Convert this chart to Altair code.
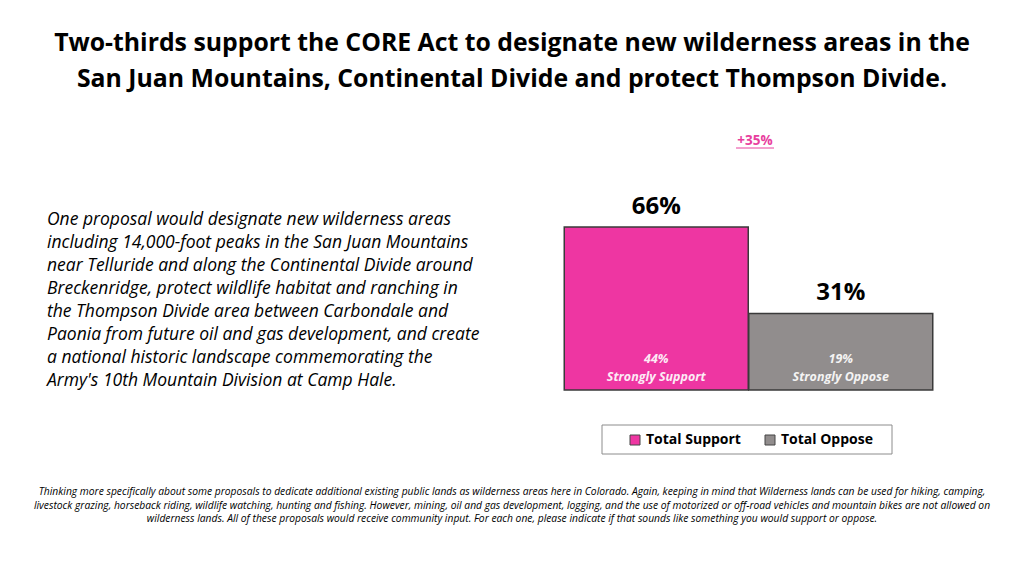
import altair as alt
import pandas as pd

FONT = "Open Sans"

# ---- data ----
categories = ["Total Support", "Total Oppose"]
totals = [66, 31]
strong_values = [44, 19]
strong_labels = ["Strongly Support", "Strongly Oppose"]
colors = ["#EE36A2", "#918D8D"]
margin_label = "+35%"

title_lines = [
    "Two-thirds support the CORE Act to designate new wilderness areas in the",
    "San Juan Mountains, Continental Divide and protect Thompson Divide.",
]
paragraph_lines = [
    "One proposal would designate new wilderness areas",
    "including 14,000-foot peaks in the San Juan Mountains",
    "near Telluride and along the Continental Divide around",
    "Breckenridge, protect wildlife habitat and ranching in",
    "the Thompson Divide area between Carbondale and",
    "Paonia from future oil and gas development, and create",
    "a national historic landscape commemorating the",
    "Army's 10th Mountain Division at Camp Hale.",
]
footnote_lines = [
    "Thinking more specifically about some proposals to dedicate additional existing public lands as wilderness areas here in Colorado. Again, keeping in mind that Wilderness lands can be used for hiking, camping,",
    "livestock grazing, horseback riding, wildlife watching, hunting and fishing. However, mining, oil and gas development, logging, and the use of motorized or off-road vehicles and mountain bikes are not allowed on",
    "wilderness lands. All of these proposals would receive community input. For each one, please indicate if that sounds like something you would support or oppose.",
]

df = pd.DataFrame({
    "category": categories,
    "total": totals,
    "total_label": [f"{v}%" for v in totals],
    "inner_label": [f"{v}%\n{l}" for v, l in zip(strong_values, strong_labels)],
})

one = pd.DataFrame({"k": [0]})

x_enc = alt.X("category:N", sort=categories, axis=None,
              scale=alt.Scale(range=[556, 925], paddingInner=0, paddingOuter=0))
y_scale = alt.Scale(domain=[-72.06, 154.66], nice=False, zero=False)

bars = alt.Chart(df).mark_bar(stroke="#3a3a3a", strokeWidth=1.5, size=184).encode(
    x=x_enc,
    y=alt.Y("total:Q", axis=None, scale=y_scale),
    color=alt.Color("category:N", sort=categories,
                    scale=alt.Scale(domain=categories, range=colors),
                    legend=alt.Legend(orient="none", legendX=620, legendY=425,
                                      direction="horizontal", title=None,
                                      symbolType="square", symbolSize=100,
                                      symbolStrokeColor="#444", symbolStrokeWidth=1,
                                      labelFont=FONT, labelFontSize=14,
                                      labelFontWeight="bold", labelColor="black",
                                      labelOffset=4, columnPadding=22,
                                      padding=0, labelLimit=300)),
)

total_text = alt.Chart(df).mark_text(font=FONT, fontSize=24, fontWeight="bold",
                                     color="black", baseline="alphabetic", dy=-13).encode(
    x=x_enc,
    y=alt.Y("total:Q", axis=None, scale=y_scale),
    text="total_label:N",
)

inner_text = alt.Chart(df).mark_text(font=FONT, fontSize=12.5, fontWeight="bold",
                                     fontStyle="italic", color="white", opacity=0.9,
                                     baseline="middle", lineBreak="\n",
                                     lineHeight=18).encode(
    x=x_enc,
    y=alt.value(351),
    text="inner_label:N",
)

legend_box = alt.Chart(one).mark_rect(fill="white", stroke="#8c8c8c",
                                      strokeWidth=1).encode(
    x=alt.value(594), x2=alt.value(884), y=alt.value(417), y2=alt.value(446))

title = alt.Chart(one).mark_text(font=FONT, fontSize=24.8, fontWeight="bold",
                                 color="black", align="center",
                                 baseline="alphabetic", lineHeight=36).encode(
    x=alt.value(504), y=alt.value(43),
    text=alt.value(title_lines))

paragraph = alt.Chart(one).mark_text(font=FONT, fontSize=17.5, fontStyle="italic",
                                     color="black", align="left",
                                     baseline="alphabetic", lineHeight=23).encode(
    x=alt.value(39), y=alt.value(217),
    text=alt.value(paragraph_lines))

footnote = alt.Chart(one).mark_text(font=FONT, fontSize=10.3, fontStyle="italic",
                                    color="black", align="center",
                                    baseline="alphabetic", lineHeight=13.5).encode(
    x=alt.value(504), y=alt.value(487),
    text=alt.value(footnote_lines))

margin_text = alt.Chart(one).mark_text(font=FONT, fontSize=13.5, fontWeight="bold",
                                       color="#E8409E", align="center",
                                       baseline="middle").encode(
    x=alt.value(747), y=alt.value(133), text=alt.value(margin_label))

underline = alt.Chart(one).mark_rule(color="#E8409E", strokeWidth=1).encode(
    x=alt.value(728), x2=alt.value(766), y=alt.value(140))

chart = alt.layer(
    legend_box, bars, total_text, inner_text, title, paragraph, footnote,
    margin_text, underline,
).properties(
    width=1008, height=560,
    autosize=alt.AutoSizeParams(type="none"),
    padding=0,
    background="white",
).configure_view(stroke=None)

chart.save("out.html", embed_options={"renderer": "svg", "actions": False})
